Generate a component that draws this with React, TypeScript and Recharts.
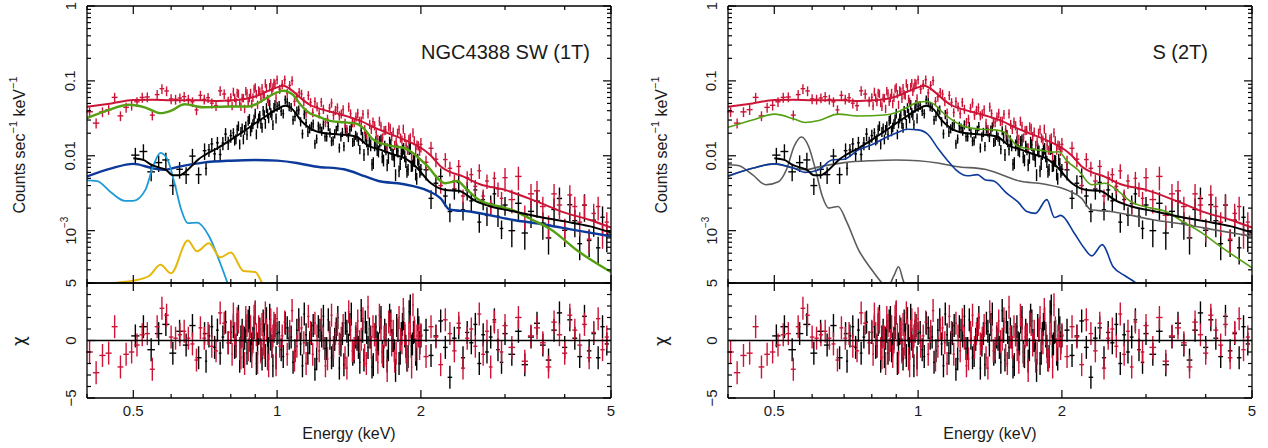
import React from "react";
import { ComposedChart, Line, Scatter, XAxis, YAxis, ErrorBar, ReferenceLine } from "recharts";

// ---------- data (counts s^-1 keV^-1, keV) ----------

// black spectrum
const blackEnergy = [
  0.505, 0.525, 0.545, 0.565, 0.585, 0.605, 0.625, 0.645, 0.665, 0.685, 0.705,
  0.71, 0.72, 0.73, 0.74, 0.75, 0.76, 0.77, 0.78, 0.79, 0.8,
  0.81, 0.82, 0.83, 0.84, 0.85, 0.86, 0.87, 0.88, 0.89, 0.9, 0.91, 0.92, 0.93, 0.94, 0.95, 0.96, 0.97, 0.98, 0.99, 1.0,
  1.02, 1.04, 1.06, 1.08, 1.1, 1.12, 1.14, 1.16, 1.18, 1.2, 1.22, 1.24, 1.26, 1.28, 1.3, 1.32, 1.34, 1.36, 1.38, 1.4,
  1.42, 1.44, 1.46, 1.48, 1.5, 1.52, 1.54, 1.56, 1.58, 1.6, 1.62, 1.64, 1.66, 1.68, 1.7, 1.72, 1.74, 1.76, 1.78, 1.8,
  1.82, 1.84, 1.86, 1.88, 1.9, 1.92, 1.94, 1.96, 1.98, 2.0,
  2.05, 2.1, 2.15, 2.2, 2.25, 2.3, 2.35, 2.4, 2.45, 2.5, 2.55, 2.6, 2.65, 2.7, 2.75, 2.8, 2.85, 2.9, 2.95, 3.0,
  3.1, 3.2, 3.3, 3.4, 3.5, 3.6, 3.7, 3.8, 3.9, 4.0, 4.1, 4.2, 4.3, 4.4, 4.5, 4.6, 4.7, 4.8, 4.9,
];
const blackRate = [
  0.0102, 0.0114, 0.0061, 0.0081, 0.0088, 0.004, 0.0066, 0.0056, 0.0099, 0.0056, 0.0117,
  0.0068, 0.012, 0.0144, 0.0106, 0.0149, 0.0104, 0.0148, 0.0195, 0.0149, 0.0186,
  0.0203, 0.0168, 0.0251, 0.021, 0.0167, 0.025, 0.0295, 0.0214, 0.0268, 0.037, 0.0273, 0.0345, 0.0239, 0.0353, 0.0439, 0.032, 0.0378, 0.026, 0.0482, 0.0456,
  0.0395, 0.0561, 0.0457, 0.0301, 0.04, 0.0287, 0.0357, 0.0207, 0.0249, 0.0144, 0.025, 0.0216, 0.018, 0.0248, 0.0156, 0.0198, 0.0247, 0.0181, 0.0134, 0.0209,
  0.0222, 0.0152, 0.0189, 0.0158, 0.0218, 0.0104, 0.0158, 0.0159, 0.0077, 0.014, 0.0121, 0.0156, 0.0097, 0.0134, 0.0076, 0.0152, 0.0106, 0.0086, 0.0125, 0.0063,
  0.0107, 0.0126, 0.0084, 0.0066, 0.0128, 0.0075, 0.0086, 0.005, 0.0079, 0.0066,
  0.0065, 0.0027, 0.0043, 0.0053, 0.0029, 0.0018, 0.0036, 0.0044, 0.0019, 0.0035, 0.0025, 0.0035, 0.0013, 0.0026, 0.0016, 0.0023, 0.0031, 0.00155, 0.00107, 0.0022,
  0.001, 0.00232, 0.00093, 0.00181, 0.00248, 0.00126, 0.0008, 0.00192, 0.00269, 0.00101, 0.00222, 0.00136, 0.00067, 0.00219, 0.00074, 0.00138, 0.00059, 0.00151, 0.00086,
];
const blackChi = [
  0.4, 1.2, -0.8, 0.6, 1.4, -1.1, 0.8, -0.4, 1.3, -1.5, 0.6,
  -1.8, 0.4, 1.2, -0.6, 0.9, -1.1, 0.3, 1.6, -0.2, 0.7,
  1.2, -0.5, 2.1, 0.3, -1.4, 0.8, 1.7, -0.9, 0.2, 2.4, -0.3, 1.0, -1.6, 0.5, 1.9, -0.7, 0.1, -2.2, 1.3, 0.6,
  -0.8, 1.5, 0.2, -1.9, 0.9, -0.3, 2.3, -1.1, 0.6, -2.5, 1.2, 0.4, -0.7, 1.8, -1.5, 0.1, 2.0, -0.4, -2.1, 0.8,
  1.4, -1.2, 0.3, -0.6, 2.6, -1.7, 0.7, 1.0, -2.3, 0.5, -0.2, 1.6, -1.0, 0.9, -1.8, 2.2, 0.0, -0.9, 1.3, -2.0,
  0.6, 1.9, -0.5, -1.4, 3.0, -0.3, 0.8, -1.6, 1.1, 0.4,
  0.9, -1.3, 0.4, 1.7, -0.6, -3.2, 0.2, 1.1, -1.5, 0.7, -0.2, 1.4, -2.0, 0.5, -1.0, 0.3, 1.8, -0.8, -1.9, 0.6,
  -1.2, 0.8, -2.1, 0.3, 1.5, -0.4, -1.7, 0.9, 2.4, -0.6, 1.8, 0.2, -1.4, 2.1, -0.9, 0.6, -1.5, 1.2, -0.3,
];
// the finer black bins between 0.8 and 2 keV
const blackEnergyFine = [
  0.815, 0.825, 0.835, 0.845, 0.855, 0.865, 0.875, 0.885, 0.895, 0.905, 0.915, 0.925, 0.935, 0.945, 0.955, 0.965, 0.975, 0.985, 0.995,
  1.01, 1.03, 1.05, 1.07, 1.09, 1.11, 1.13, 1.15, 1.17, 1.19, 1.21, 1.23, 1.25, 1.27, 1.29, 1.31, 1.33, 1.35, 1.37, 1.39,
  1.41, 1.43, 1.45, 1.47, 1.49, 1.51, 1.53, 1.55, 1.57, 1.59, 1.61, 1.63, 1.65, 1.67, 1.69, 1.71, 1.73, 1.75, 1.77, 1.79,
  1.81, 1.83, 1.85, 1.87, 1.89, 1.91, 1.93, 1.95, 1.97, 1.99,
];
const blackRateFine = [
  0.0161, 0.0225, 0.0143, 0.0234, 0.0224, 0.0191, 0.0313, 0.0242, 0.031, 0.0195, 0.0319, 0.027, 0.0403, 0.027, 0.037, 0.0484, 0.0352, 0.0442, 0.0318,
  0.0474, 0.0366, 0.0525, 0.0446, 0.0335, 0.0411, 0.0197, 0.0276, 0.0231, 0.0267, 0.0169, 0.0236, 0.0261, 0.018, 0.0204, 0.016, 0.0221, 0.0128, 0.0207, 0.0229,
  0.0177, 0.0245, 0.0157, 0.0179, 0.0122, 0.0177, 0.0187, 0.0123, 0.014, 0.0081, 0.0154, 0.0116, 0.0163, 0.0088, 0.0124, 0.0095, 0.0141, 0.0105, 0.0056, 0.0116,
  0.0079, 0.012, 0.01, 0.0062, 0.0125, 0.0074, 0.0087, 0.0057, 0.009, 0.0062,
];
const blackChiFine = [
  -0.6, 1.4, -1.8, 0.9, 0.2, -1.1, 2.0, -0.3, 1.1, -2.0, 0.6, -0.8, 1.7, -1.3, 0.4, 2.2, -0.5, 0.8, -1.5,
  0.7, -1.4, 1.1, 0.3, -0.9, 1.8, -2.2, 0.5, -0.2, 1.3, -1.6, 0.9, 2.1, -0.7, 0.2, -1.3, 1.0, -2.4, 0.6, 1.5,
  -0.4, 2.3, -1.0, 0.1, -1.9, 0.8, 1.6, -0.6, 0.3, -2.1, 1.2, -0.3, 2.0, -1.4, 0.5, -0.8, 1.7, 0.0, -2.6, 0.9,
  -1.1, 1.4, 0.4, -1.7, 2.5, -0.5, 0.7, -1.2, 1.8, -0.2,
];
// relative 1-sigma error of the black bins, by upper energy of each band
const blackErrBands = [[0.706, 0.25], [0.801, 0.2], [1.001, 0.15], [1.501, 0.14], [2.001, 0.18], [3.001, 0.28], [9, 0.4]];

// red spectrum
const redEnergy = [
  0.405, 0.418, 0.431, 0.444, 0.457, 0.47, 0.483, 0.496, 0.509, 0.522, 0.535, 0.548, 0.561, 0.574, 0.587,
  0.6, 0.613, 0.626, 0.639, 0.652, 0.665, 0.678, 0.691, 0.704, 0.717, 0.73, 0.745, 0.76, 0.775, 0.79,
  0.8, 0.81, 0.82, 0.83, 0.84, 0.85, 0.86, 0.87, 0.88, 0.89, 0.9, 0.91, 0.92, 0.93, 0.94, 0.95, 0.96, 0.97, 0.98, 0.99,
  1.0, 1.025, 1.05, 1.075, 1.1, 1.125, 1.15, 1.175, 1.2, 1.225, 1.25, 1.275, 1.3, 1.325, 1.35, 1.375, 1.4, 1.425, 1.45, 1.475,
  1.5, 1.525, 1.55, 1.575, 1.6, 1.625, 1.65, 1.675, 1.7, 1.725, 1.75, 1.775, 1.8, 1.825, 1.85, 1.875, 1.9, 1.925, 1.95, 1.975,
  2.0, 2.05, 2.1, 2.15, 2.2, 2.25, 2.3, 2.35, 2.4, 2.45, 2.5, 2.55, 2.6, 2.65, 2.7, 2.75, 2.8, 2.85, 2.9, 2.95,
  3.0, 3.1, 3.2, 3.3, 3.4, 3.5, 3.6, 3.7, 3.8, 3.9, 4.0, 4.1, 4.2, 4.3, 4.4, 4.5, 4.6, 4.7, 4.8, 4.9,
];
const redRate = [
  0.0387, 0.0273, 0.0386, 0.0413, 0.0602, 0.0341, 0.0443, 0.0472, 0.0526, 0.0602, 0.061, 0.0349, 0.0656, 0.0787, 0.0734,
  0.0575, 0.0567, 0.0591, 0.0616, 0.0567, 0.0525, 0.041, 0.0641, 0.0567, 0.0597, 0.0504, 0.0467, 0.0737, 0.0668, 0.0532,
  0.0607, 0.0718, 0.0528, 0.0678, 0.0455, 0.0592, 0.0731, 0.0529, 0.0694, 0.0602, 0.0822, 0.0482, 0.072, 0.0804, 0.0645, 0.0804, 0.0528, 0.0938, 0.0821, 0.0914,
  0.1038, 0.0898, 0.0691, 0.1009, 0.0614, 0.0669, 0.0374, 0.0516, 0.0532, 0.0367, 0.0421, 0.031, 0.051, 0.0407, 0.0345, 0.0414, 0.0226, 0.0366, 0.028, 0.0371,
  0.0294, 0.0225, 0.0366, 0.0227, 0.0254, 0.0167, 0.0249, 0.0219, 0.0129, 0.0234, 0.021, 0.0154, 0.0224, 0.0164, 0.0177, 0.012, 0.0175, 0.0204, 0.012, 0.0137,
  0.0142, 0.0082, 0.0126, 0.009, 0.004, 0.0089, 0.0068, 0.0046, 0.0072, 0.0029, 0.0051, 0.0056, 0.0039, 0.0063, 0.0029, 0.0046, 0.0021, 0.005, 0.0036, 0.0027,
  0.0051, 0.0026, 0.0053, 0.0016, 0.0031, 0.0034, 0.0021, 0.00118, 0.0031, 0.0022, 0.00107, 0.003, 0.0021, 0.0013, 0.0022, 0.00077, 0.0017, 0.0021, 0.00088, 0.0013,
];
const redChi = [
  -1.0, -2.8, -1.3, -1.1, 1.2, -2.3, -1.2, -1.0, -0.4, 0.5, 0.6, -2.5, 1.2, 2.8, 2.2,
  0.3, 0.2, 0.5, 0.8, 0.2, -0.3, -1.7, 1.1, 0.2, 0.6, -0.5, -0.9, 2.4, 1.5, -0.2,
  0.8, 2.3, -0.4, 1.6, -1.5, 0.3, 2.0, -0.8, 1.2, -0.1, 2.5, -1.9, 0.7, 1.4, -0.6, 0.9, -2.2, 1.8, 0.4, 1.1,
  1.9, 0.4, -1.2, 2.6, -0.5, 1.1, -2.0, 0.7, 1.5, -0.9, 0.2, -1.6, 2.2, 0.6, -0.3, 1.3, -2.4, 0.9, -0.7, 1.7,
  0.1, -1.3, 2.9, -0.6, 0.5, -1.9, 1.0, 0.3, -2.6, 1.4, 0.8, -1.1, 2.0, -0.2, 0.6, -1.7, 1.2, 3.1, -0.8, 0.4,
  0.5, -1.4, 1.2, 0.3, -2.1, 1.8, 0.6, -0.9, 1.5, -2.4, 0.2, 1.0, -0.5, 2.3, -1.2, 0.8, -2.3, 1.6, 0.0, -1.0,
  1.3, -0.6, 2.0, -1.8, 0.4, 1.1, -0.2, -2.3, 1.6, 0.5, -1.1, 2.2, 0.9, -0.4, 1.4, -1.5, 0.7, 1.9, -0.8, 0.3,
];
// the finer red bins between 0.8 and 2 keV
const redEnergyFine = [
  0.805, 0.815, 0.825, 0.835, 0.845, 0.855, 0.865, 0.875, 0.885, 0.895, 0.905, 0.915, 0.925, 0.935, 0.945, 0.955, 0.965, 0.975, 0.985, 0.995,
  1.0125, 1.0375, 1.0625, 1.0875, 1.1125, 1.1375, 1.1625, 1.1875, 1.2125, 1.2375, 1.2625, 1.2875, 1.3125, 1.3375, 1.3625, 1.3875,
  1.4125, 1.4375, 1.4625, 1.4875, 1.5125, 1.5375, 1.5625, 1.5875, 1.6125, 1.6375, 1.6625, 1.6875, 1.7125, 1.7375, 1.7625, 1.7875,
  1.8125, 1.8375, 1.8625, 1.8875, 1.9125, 1.9375, 1.9625, 1.9875,
];
const redRateFine = [
  0.0465, 0.0598, 0.0697, 0.0512, 0.0596, 0.0426, 0.0684, 0.0595, 0.0495, 0.0783, 0.0671, 0.0751, 0.0583, 0.0663, 0.0932, 0.0578, 0.0828, 0.072, 0.0944, 0.0589,
  0.0777, 0.1034, 0.0873, 0.0533, 0.0707, 0.0535, 0.0641, 0.0379, 0.0454, 0.052, 0.028, 0.0434, 0.0351, 0.044, 0.0365, 0.0273,
  0.045, 0.0278, 0.0331, 0.0291, 0.0358, 0.0193, 0.0265, 0.0284, 0.0206, 0.0292, 0.0175, 0.0221, 0.0245, 0.0182, 0.0139, 0.0202,
  0.0174, 0.0229, 0.0138, 0.0167, 0.0099, 0.016, 0.014, 0.0116,
];
const redChiFine = [
  -1.2, 0.6, 1.9, -0.7, 0.4, -2.0, 1.3, 0.0, -1.4, 2.1, 0.5, 1.2, -1.0, -0.3, 2.4, -1.6, 0.8, -0.5, 1.5, -2.1,
  -0.5, 1.6, 0.8, -1.7, 1.0, -0.2, 2.1, -1.2, 0.4, 1.8, -2.2, 0.7, -0.6, 1.4, 0.2, -1.5,
  2.5, -0.9, 0.6, -0.1, 1.9, -2.0, 0.3, 1.2, -0.8, 2.2, -1.3, 0.5, 1.6, -0.4, -1.8, 0.9,
  0.1, 2.7, -1.0, 0.6, -2.3, 1.1, 0.4, -0.7,
];
const redErrBands = [[0.791, 0.15], [0.996, 0.13], [1.99, 0.14], [2.951, 0.22], [9, 0.35]];

// folded models [keV, counts s^-1 keV^-1]
const blackModel = [
  [0.5, 0.0093], [0.525, 0.0088], [0.545, 0.0076], [0.565, 0.007], [0.585, 0.0065], [0.605, 0.0055], [0.625, 0.0055],
  [0.645, 0.0062], [0.665, 0.0075], [0.685, 0.009], [0.705, 0.0102], [0.75, 0.0126], [0.8, 0.0163], [0.85, 0.0211],
  [0.9, 0.0272], [0.95, 0.0342], [1.0, 0.0418], [1.04, 0.0464], [1.08, 0.041], [1.12, 0.03], [1.17, 0.0234],
  [1.25, 0.0201], [1.35, 0.0193], [1.46, 0.0181], [1.55, 0.0137], [1.65, 0.012], [1.75, 0.0104], [1.85, 0.0093],
  [1.95, 0.0072], [2.1, 0.0043], [2.25, 0.0035], [2.4, 0.0034], [2.6, 0.0025], [2.8, 0.0021], [3.1, 0.00183],
  [3.5, 0.00155], [4.0, 0.00133], [4.5, 0.00115], [5.0, 0.00094],
];
const redModel = [
  [0.4, 0.045], [0.45, 0.05], [0.5, 0.0555], [0.55, 0.0558], [0.6, 0.055], [0.7, 0.055], [0.75, 0.054], [0.8, 0.055],
  [0.85, 0.057], [0.9, 0.062], [0.95, 0.072], [1.0, 0.082], [1.03, 0.086], [1.07, 0.076], [1.12, 0.059], [1.17, 0.048],
  [1.25, 0.041], [1.35, 0.036], [1.5, 0.029], [1.6, 0.0237], [1.7, 0.0203], [1.85, 0.0163], [2.0, 0.0128], [2.1, 0.01],
  [2.2, 0.0072], [2.3, 0.0061], [2.45, 0.0053], [2.65, 0.0042], [3.0, 0.0035], [3.5, 0.00244], [4.0, 0.00174],
  [4.5, 0.0014], [5.0, 0.0011],
];
// smooth continuum (blue in 1T, grey in 2T)
const continuum = [
  [0.4, 0.0053], [0.45, 0.0068], [0.5, 0.0078], [0.55, 0.0068], [0.58, 0.0065], [0.62, 0.0071], [0.7, 0.0081],
  [0.8, 0.0086], [0.9, 0.0088], [1.0, 0.0086], [1.1, 0.008], [1.2, 0.0072], [1.38, 0.0066], [1.53, 0.0053],
  [1.63, 0.0046], [1.83, 0.0042], [2.07, 0.0034], [2.2, 0.0027], [2.3, 0.0019], [2.53, 0.0018], [3.1, 0.0014],
  [3.64, 0.0012], [4.26, 0.001], [5.0, 0.00084],
];
// 1T components
const green1T = [
  [0.4, 0.0318], [0.44, 0.04], [0.49, 0.0479], [0.53, 0.044], [0.57, 0.0371], [0.6, 0.04], [0.64, 0.0487], [0.7, 0.0445],
  [0.8, 0.0455], [0.87, 0.0455], [0.91, 0.05], [0.95, 0.059], [1.0, 0.07], [1.03, 0.074], [1.08, 0.065], [1.12, 0.048],
  [1.17, 0.037], [1.22, 0.0334], [1.3, 0.029], [1.38, 0.028], [1.46, 0.027], [1.52, 0.023], [1.58, 0.017], [1.66, 0.0145],
  [1.76, 0.0133], [1.85, 0.0127], [1.92, 0.011], [2.05, 0.0076], [2.25, 0.0043], [2.38, 0.0046], [2.5, 0.0035],
  [2.64, 0.0026], [2.92, 0.0021], [3.1, 0.0019], [3.42, 0.0014], [3.73, 0.00105], [4.27, 0.00053], [5.0, 0.00028],
];
const cyan1T = [
  [0.4, 0.0047], [0.42, 0.0046], [0.45, 0.0032], [0.48, 0.0025], [0.5, 0.0025], [0.53, 0.0035], [0.55, 0.0072],
  [0.57, 0.0109], [0.59, 0.0088], [0.61, 0.0043], [0.63, 0.0019], [0.65, 0.00126], [0.68, 0.00128], [0.72, 0.00085],
  [0.76, 0.00037], [0.8, 0.00015],
];
const yellow1T = [
  [0.44, 0.00017], [0.46, 0.0002], [0.5, 0.000215], [0.54, 0.00025], [0.57, 0.00035], [0.6, 0.00027], [0.65, 0.00074],
  [0.68, 0.00053], [0.72, 0.00068], [0.76, 0.00044], [0.8, 0.00051], [0.85, 0.00029], [0.9, 0.00028], [0.93, 0.0002],
  [0.95, 0.00015],
];
// 2T components
const green2T = [
  [0.4, 0.024], [0.45, 0.03], [0.5, 0.036], [0.55, 0.031], [0.58, 0.0278], [0.62, 0.0295], [0.68, 0.036], [0.75, 0.034],
  [0.85, 0.035], [0.9, 0.0378], [0.95, 0.0445], [1.0, 0.052], [1.04, 0.053], [1.08, 0.049], [1.12, 0.039], [1.17, 0.031],
  [1.25, 0.0245], [1.35, 0.0226], [1.45, 0.0222], [1.52, 0.0205], [1.62, 0.0133], [1.81, 0.0118], [1.9, 0.0112],
  [1.97, 0.0113], [2.05, 0.0085], [2.16, 0.0065], [2.31, 0.0041], [2.46, 0.0043], [2.62, 0.0034], [2.8, 0.0024],
  [3.08, 0.002], [3.28, 0.00183], [3.61, 0.00128], [3.92, 0.00094], [4.24, 0.00065], [5.0, 0.00032],
];
const blue2T = [
  [0.4, 0.0054], [0.45, 0.0068], [0.5, 0.0078], [0.55, 0.0068], [0.58, 0.006], [0.62, 0.0065], [0.66, 0.0088],
  [0.7, 0.009], [0.75, 0.012], [0.8, 0.014], [0.85, 0.0171], [0.9, 0.0201], [0.95, 0.0226], [1.0, 0.0222],
  [1.05, 0.0191], [1.1, 0.0126], [1.15, 0.0088], [1.2, 0.0065], [1.27, 0.0054], [1.33, 0.0056], [1.38, 0.0048],
  [1.44, 0.0046], [1.53, 0.0032], [1.62, 0.0024], [1.69, 0.0018], [1.76, 0.0017], [1.86, 0.0026], [1.93, 0.0015],
  [1.99, 0.0016], [2.12, 0.00094], [2.22, 0.0006], [2.31, 0.00046], [2.43, 0.00065], [2.56, 0.00033], [2.71, 0.00025],
  [2.86, 0.0002], [3.0, 0.00015],
];
const gray2T = [
  [0.4, 0.0076], [0.42, 0.0074], [0.45, 0.0056], [0.48, 0.0041], [0.51, 0.0045], [0.53, 0.0065], [0.55, 0.0133],
  [0.57, 0.0178], [0.59, 0.0133], [0.61, 0.0065], [0.63, 0.0029], [0.65, 0.002], [0.68, 0.0021], [0.71, 0.00128],
  [0.75, 0.00056], [0.8, 0.0003], [0.84, 0.0002], [0.86, 0.00017], [0.89, 0.00025], [0.91, 0.00033], [0.93, 0.00022],
  [0.95, 0.00015],
];

// ---------- helpers ----------
const FONT = "'Liberation Sans', Arial, Helvetica, sans-serif";
const RED = "#cc1436";
const GREEN = "#54a012";
const NAVY = "#0c3a9a";
const CYAN = "#1d9ad8";
const YELLOW = "#e6b80e";
const GRAY = "#5c5c5c";

const X_TICKS = [0.4, 0.5, 0.6, 0.7, 0.8, 0.9, 1, 2, 3, 4, 5];
const X_LABELS = [0.5, 1, 2, 5];
const COUNT_TICKS = [1e-4, 1e-3, 1e-2, 1e-1]
  .flatMap((d) => [1, 2, 3, 4, 5, 6, 7, 8, 9].map((m) => +(m * d).toPrecision(3)))
  .filter((v) => v >= 2e-4)
  .concat([1]);
const CHI_TICKS = [-5, -4, -3, -2, -1, 0, 1, 2, 3, 4, 5];
const AXIS = { stroke: "#000", strokeWidth: 1.3 };

const isDecade = (v: number) => Math.abs(Math.log10(v) - Math.round(Math.log10(v))) < 1e-6;

// join the coarse and fine bins of one spectrum, ordered in energy
const joinBins = (e1: number[], r1: number[], c1: number[], e2: number[], r2: number[], c2: number[]) =>
  [...e1.map((e, i) => [e, r1[i], c1[i]]), ...e2.map((e, i) => [e, r2[i], c2[i]])].sort((a, b) => a[0] - b[0]);

const halfBins = (es: number[]) =>
  es.map((e, i) => {
    const lo = i > 0 ? (e - es[i - 1]) / 2 : (es[1] - e) / 2;
    const hi = i < es.length - 1 ? (es[i + 1] - e) / 2 : (e - es[i - 1]) / 2;
    return (lo + hi) / 2;
  });

const bandFrac = (bands: number[][], e: number) => (bands.find((b) => e <= b[0]) ?? bands[bands.length - 1])[1];

const buildSets = (bins: number[][], bands: number[][]) => {
  const es = bins.map((b) => b[0]);
  const hb = halfBins(es);
  return {
    top: bins.map(([e, r], i) => ({ x: e, y: r, ex: hb[i], ey: r * bandFrac(bands, e) })),
    res: bins.map(([e, , c], i) => ({ x: e, y: c, ex: hb[i], ey: 1 })),
  };
};
const curve = (pts: number[][]) => pts.map(([x, y]) => ({ x, y }));

const blackSets = buildSets(joinBins(blackEnergy, blackRate, blackChi, blackEnergyFine, blackRateFine, blackChiFine), blackErrBands);
const redSets = buildSets(joinBins(redEnergy, redRate, redChi, redEnergyFine, redRateFine, redChiFine), redErrBands);

// ---------- ticks ----------
const txt = { fontFamily: FONT, fill: "#1a1a1a" };

function BottomTick({ x, y, payload, labels }: any) {
  const major = X_LABELS.includes(payload.value);
  return (
    <g>
      <line x1={x} x2={x} y1={y} y2={y - (major ? 8 : 4)} stroke="#000" strokeWidth={1.2} />
      {labels && major && (
        <text x={x} y={y + 18} textAnchor="middle" fontSize={15} {...txt}>
          {payload.value}
        </text>
      )}
    </g>
  );
}

function TopTick({ x, y, payload }: any) {
  const major = X_LABELS.includes(payload.value);
  return <line x1={x} x2={x} y1={y} y2={y + (major ? 8 : 4)} stroke="#000" strokeWidth={1.2} />;
}

const yMajor = (v: number, kind: string) => (kind === "log" ? isDecade(v) : v % 5 === 0);

function yLabel(v: number, kind: string) {
  if (kind !== "log") return v < 0 ? "\u2212" + Math.abs(v) : String(v);
  if (v >= 0.01) return String(v);
  return null;
}

function LeftTick({ x, y, payload, kind }: any) {
  const v = payload.value;
  const major = yMajor(v, kind);
  const lx = x - 17;
  const label = yLabel(v, kind);
  return (
    <g>
      <line x1={x} x2={x + (major ? 8 : 4)} y1={y} y2={y} stroke="#000" strokeWidth={1.2} />
      {major && (
        <text
          x={lx}
          y={y}
          transform={`rotate(-90, ${lx}, ${y})`}
          textAnchor="middle"
          dominantBaseline="central"
          fontSize={15}
          {...txt}
        >
          {label ?? (
            <>
              <tspan>10</tspan>
              <tspan fontSize={10} dy={-6}>
                {"\u22123"}
              </tspan>
            </>
          )}
        </text>
      )}
    </g>
  );
}

function RightTick({ x, y, payload, kind }: any) {
  const major = yMajor(payload.value, kind);
  return <line x1={x} x2={x - (major ? 8 : 4)} y1={y} y2={y} stroke="#000" strokeWidth={1.2} />;
}

const noShape = () => <g />;

const axisCommon = {
  type: "number" as const,
  allowDataOverflow: true,
  interval: 0 as const,
  tickSize: 0,
  tickMargin: 0,
  tickLine: false,
  axisLine: AXIS,
};

function DataPoints({ data, color, xId, yId }: any) {
  return (
    <Scatter xAxisId={xId} yAxisId={yId} data={data} dataKey="y" shape={noShape} isAnimationActive={false}>
      <ErrorBar dataKey="ex" direction="x" width={0} stroke={color} strokeWidth={1.4} />
      <ErrorBar dataKey="ey" direction="y" width={0} stroke={color} strokeWidth={1.4} />
    </Scatter>
  );
}

type Curve = { data: { x: number; y: number }[]; color: string; w: number };

function SpectrumChart({ width, leftW, rightW, curves }: { width: number; leftW: number; rightW: number; curves: Curve[] }) {
  return (
    <ComposedChart width={width} height={293} margin={{ top: 0, right: 0, bottom: 0, left: 0 }}>
      <XAxis {...axisCommon} xAxisId="b" dataKey="x" scale="log" domain={[0.4, 5]} ticks={X_TICKS} orientation="bottom" height={10} tick={(p: any) => <BottomTick {...p} />} />
      <XAxis {...axisCommon} xAxisId="t" dataKey="x" scale="log" domain={[0.4, 5]} ticks={X_TICKS} orientation="top" height={6} tick={(p: any) => <TopTick {...p} />} />
      <YAxis {...axisCommon} yAxisId="l" dataKey="y" scale="log" domain={[2e-4, 1]} ticks={COUNT_TICKS} orientation="left" width={leftW} tick={(p: any) => <LeftTick {...p} kind="log" />} />
      <YAxis {...axisCommon} yAxisId="r" dataKey="y" scale="log" domain={[2e-4, 1]} ticks={COUNT_TICKS} orientation="right" width={rightW} tick={(p: any) => <RightTick {...p} kind="log" />} />
      {DataPoints({ data: blackSets.top, color: "#000", xId: "b", yId: "l" })}
      {DataPoints({ data: redSets.top, color: RED, xId: "b", yId: "l" })}
      {curves.map((c, i) => (
        <Line
          key={i}
          xAxisId="b"
          yAxisId="l"
          data={c.data}
          dataKey="y"
          type="monotone"
          stroke={c.color}
          strokeWidth={c.w}
          dot={false}
          activeDot={false}
          isAnimationActive={false}
        />
      ))}
    </ComposedChart>
  );
}

function ResidualChart({ width, leftW, rightW }: { width: number; leftW: number; rightW: number }) {
  return (
    <ComposedChart width={width} height={175} margin={{ top: 0, right: 0, bottom: 0, left: 0 }}>
      <XAxis {...axisCommon} xAxisId="b" dataKey="x" scale="log" domain={[0.4, 5]} ticks={X_TICKS} orientation="bottom" height={50} tick={(p: any) => <BottomTick {...p} labels />} />
      <XAxis {...axisCommon} xAxisId="t" dataKey="x" scale="log" domain={[0.4, 5]} ticks={X_TICKS} orientation="top" height={10} tick={(p: any) => <TopTick {...p} />} />
      <YAxis {...axisCommon} yAxisId="l" dataKey="y" domain={[-5, 5]} ticks={CHI_TICKS} orientation="left" width={leftW} tick={(p: any) => <LeftTick {...p} kind="lin" />} />
      <YAxis {...axisCommon} yAxisId="r" dataKey="y" domain={[-5, 5]} ticks={CHI_TICKS} orientation="right" width={rightW} tick={(p: any) => <RightTick {...p} kind="lin" />} />
      {DataPoints({ data: blackSets.res, color: "#000", xId: "b", yId: "l" })}
      {DataPoints({ data: redSets.res, color: RED, xId: "b", yId: "l" })}
      <ReferenceLine xAxisId="b" yAxisId="l" y={0} stroke="#000" strokeWidth={1.6} />
    </ComposedChart>
  );
}

const curves1T: Curve[] = [
  { data: curve(continuum), color: NAVY, w: 2.4 },
  { data: curve(cyan1T), color: CYAN, w: 1.8 },
  { data: curve(yellow1T), color: YELLOW, w: 2 },
  { data: curve(green1T), color: GREEN, w: 2.4 },
  { data: curve(blackModel), color: "#000", w: 2 },
  { data: curve(redModel), color: RED, w: 2 },
];
const curves2T: Curve[] = [
  { data: curve(continuum), color: GRAY, w: 1.6 },
  { data: curve(gray2T), color: GRAY, w: 1.6 },
  { data: curve(blue2T), color: NAVY, w: 1.6 },
  { data: curve(green2T), color: GREEN, w: 1.6 },
  { data: curve(blackModel), color: "#000", w: 2 },
  { data: curve(redModel), color: RED, w: 2 },
];

function Titles({ cx, ylx, title, titleX }: { cx: number; ylx: number; title: string; titleX: number }) {
  return (
    <>
      <text x={titleX} y={59} textAnchor="end" fontSize={20} {...txt}>
        {title}
      </text>
      <text x={cx} y={439} textAnchor="middle" fontSize={16} {...txt}>
        Energy (keV)
      </text>
      <text x={ylx} y={145} transform={`rotate(-90, ${ylx}, 145)`} textAnchor="middle" dominantBaseline="central" fontSize={16} {...txt}>
        <tspan>Counts sec</tspan>
        <tspan fontSize={11} dy={-6}>{"\u22121"}</tspan>
        <tspan dy={6}> keV</tspan>
        <tspan fontSize={11} dy={-6}>{"\u22121"}</tspan>
      </text>
      <text
        x={ylx}
        y={341}
        transform={`rotate(-90, ${ylx}, 341)`}
        textAnchor="middle"
        dominantBaseline="central"
        fontSize={17}
        fontFamily="'DejaVu Sans', sans-serif"
        fill="#1a1a1a"
      >
        χ
      </text>
    </>
  );
}

export default function App() {
  return (
    <div style={{ position: "relative", width: 1268, height: 448, background: "#fff", overflow: "hidden" }}>
      <style>{"body{margin:0}"}</style>
      <div style={{ position: "absolute", left: 0, top: 0 }}>
        <SpectrumChart width={640} leftW={87} rightW={29} curves={curves1T} />
      </div>
      <div style={{ position: "absolute", left: 0, top: 273 }}>
        <ResidualChart width={640} leftW={87} rightW={29} />
      </div>
      <div style={{ position: "absolute", left: 640, top: 0 }}>
        <SpectrumChart width={628} leftW={88} rightW={16} curves={curves2T} />
      </div>
      <div style={{ position: "absolute", left: 640, top: 273 }}>
        <ResidualChart width={628} leftW={88} rightW={16} />
      </div>
      <svg width={1268} height={448} style={{ position: "absolute", left: 0, top: 0, pointerEvents: "none" }}>
        <Titles cx={349} ylx={19} title="NGC4388 SW (1T)" titleX={590} />
        <Titles cx={990} ylx={661} title="S (2T)" titleX={1208} />
      </svg>
    </div>
  );
}
